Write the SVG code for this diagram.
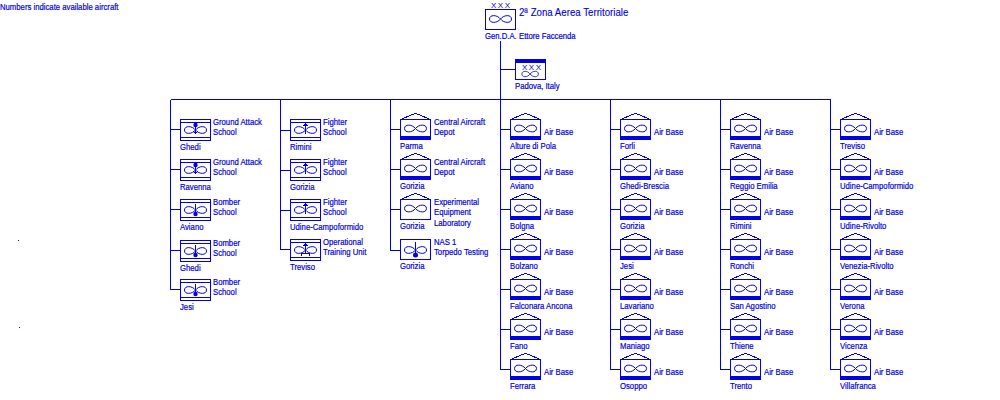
<svg xmlns="http://www.w3.org/2000/svg" width="1000" height="400" viewBox="0 0 1000 400">
<style>
text{font-family:"Liberation Sans",sans-serif;font-size:9px;fill:#0000e0;stroke:#0000e0;stroke-width:.2;transform-box:fill-box;transform-origin:0 0;transform:scaleX(.86)}
.t{font-size:11px;stroke-width:.1;transform:scaleX(.88)}
.x{font-size:8px;letter-spacing:1.5px;transform:none;stroke:none}
.s{fill:none;stroke:#0000e0;stroke-width:1;shape-rendering:crispEdges}
.f{fill:#0000e0;stroke:none;shape-rendering:crispEdges}
.d{fill:#0000e0;stroke:none}
.c{fill:none;stroke:#0000e0;stroke-width:1;shape-rendering:crispEdges}
.l{fill:none;stroke:#0000e0;stroke-width:1}
</style>
<defs>
<path id="loop" class="l" d="M15.5 0C12-4.5 4.5-4.5 4.5 0C4.5 4.5 12 4.5 15.5 0C19-4.5 26.5-4.5 26.5 0C26.5 4.5 19 4.5 15.5 0Z"/>
<g id="base"><rect class="s" x="0.5" y="0.5" width="30" height="20"/><path class="s" d="M0.5 0.5L10-3.5L15.5-5.5L21-3.5L30.5 0.5"/><rect class="f" x="0" y="17" width="31" height="4"/><use href="#loop" y="9.5"/></g>
<g id="depot"><rect class="s" x="0.5" y="0.5" width="30" height="20"/><path class="s" d="M0.5 0.5L10-3.5L15.5-5.5L21-3.5L30.5 0.5"/><use href="#loop" y="9.5"/></g>
<g id="school"><rect class="s" x="0.5" y="0.5" width="30" height="21"/><path class="s" d="M0.5 3.5H30.5M0.5 18.5H30.5"/><use href="#loop" y="11"/></g>
<g id="ga"><use href="#school"/><path class="s" d="M15.5 6V14.5M13.5 12.5L15.5 14.5L17.5 12.5"/><circle class="d" cx="15.5" cy="6" r="2.2"/></g>
<g id="ft"><use href="#school"/><path class="s" d="M15.5 5V15M13.5 7L15.5 5L17.5 7"/></g>
<g id="bm"><use href="#school"/><path class="s" d="M15.5 5V15"/><circle class="d" cx="15.5" cy="15" r="2.2"/></g>
<g id="tr"><use href="#school"/><path class="s" d="M15.5 5V14M13.5 7L15.5 5L17.5 7M11.5 16.5V14.5H19.5V16.5"/></g>
</defs>

<g id="connectors">
<path class="c" d="M500.5 41V99.5M500.5 69.5H515M170.5 99.5H830.5"/>
<path class="c" d="M170.5 99.5V289.5M170.5 129.5H180M170.5 169.5H180M170.5 209.5H180M170.5 250.5H180M170.5 289.5H180"/>
<path class="c" d="M280.5 99.5V249.5M280.5 130.5H290M280.5 170.5H290M280.5 210.5H290M280.5 249.5H290"/>
<path class="c" d="M390.5 99.5V250.5M390.5 129.5H400M390.5 169.5H400M390.5 209.5H400M390.5 250.5H400"/>
<path class="c" d="M500.5 99.5V369.5M500.5 129.5H510M500.5 169.5H510M500.5 209.5H510M500.5 249.5H510M500.5 289.5H510M500.5 329.5H510M500.5 369.5H510"/>
<path class="c" d="M610.5 99.5V369.5M610.5 129.5H620M610.5 169.5H620M610.5 209.5H620M610.5 249.5H620M610.5 289.5H620M610.5 329.5H620M610.5 369.5H620"/>
<path class="c" d="M720.5 99.5V369.5M720.5 129.5H730M720.5 169.5H730M720.5 209.5H730M720.5 249.5H730M720.5 289.5H730M720.5 329.5H730M720.5 369.5H730"/>
<path class="c" d="M830.5 99.5V369.5M830.5 129.5H840M830.5 169.5H840M830.5 209.5H840M830.5 249.5H840M830.5 289.5H840M830.5 329.5H840M830.5 369.5H840"/>
</g>

<g id="note"><text x="0" y="10">Numbers indicate available aircraft</text><rect class="f" x="18" y="240" width="1" height="1"/><rect class="f" x="19" y="327" width="1" height="1"/></g>

<g id="hq"><rect class="s" x="485.5" y="9.5" width="30" height="20"/><use href="#loop" x="485" y="19"/><text class="x" x="491" y="8">XXX</text><text class="t" x="519" y="16">2ª Zona Aerea Territoriale</text><text x="485" y="39">Gen.D.A.</text><text x="519" y="39">Ettore Faccenda</text></g>
<g id="padova"><rect class="s" x="515.5" y="59.5" width="30" height="20"/><rect class="f" x="515" y="59" width="31" height="4"/><text class="x" x="522" y="70">XXX</text><use href="#loop" transform="translate(518.5 74) scale(.75 .8)"/><text x="515" y="89">Padova, Italy</text></g>

<g id="c1a" transform="translate(180 119)"><use href="#ga"/><text x="33" y="6">Ground Attack</text><text x="33" y="16.2">School</text><text y="31">Ghedi</text></g>
<g id="c1b" transform="translate(180 159)"><use href="#ga"/><text x="33" y="6">Ground Attack</text><text x="33" y="16.2">School</text><text y="31">Ravenna</text></g>
<g id="c1c" transform="translate(180 199)"><use href="#bm"/><text x="33" y="6">Bomber</text><text x="33" y="16.2">School</text><text y="31">Aviano</text></g>
<g id="c1d" transform="translate(180 240)"><use href="#bm"/><text x="33" y="6">Bomber</text><text x="33" y="16.2">School</text><text y="31">Ghedi</text></g>
<g id="c1e" transform="translate(180 279)"><use href="#bm"/><text x="33" y="6">Bomber</text><text x="33" y="16.2">School</text><text y="31">Jesi</text></g>

<g id="c2a" transform="translate(290 119)"><use href="#ft"/><text x="33" y="6">Fighter</text><text x="33" y="16.2">School</text><text y="31">Rimini</text></g>
<g id="c2b" transform="translate(290 159)"><use href="#ft"/><text x="33" y="6">Fighter</text><text x="33" y="16.2">School</text><text y="31">Gorizia</text></g>
<g id="c2c" transform="translate(290 199)"><use href="#ft"/><text x="33" y="6">Fighter</text><text x="33" y="16.2">School</text><text y="31">Udine-Campoformido</text></g>
<g id="c2d" transform="translate(290 239)"><use href="#tr"/><text x="33" y="6">Operational</text><text x="33" y="16.2">Training Unit</text><text y="31">Treviso</text></g>

<g id="c3a" transform="translate(400 119)"><use href="#base"/><text x="34" y="6">Central Aircraft</text><text x="34" y="16.2">Depot</text><text y="30">Parma</text></g>
<g id="c3b" transform="translate(400 159)"><use href="#base"/><text x="34" y="6">Central Aircraft</text><text x="34" y="16.2">Depot</text><text y="30">Gorizia</text></g>
<g id="c3c" transform="translate(400 199)"><use href="#depot"/><text x="34" y="6.2">Experimental</text><text x="34" y="16.4">Equipment</text><text x="34" y="26.6">Laboratory</text><text y="30">Gorizia</text></g>
<g id="c3d" transform="translate(400 239)"><rect class="s" x="0.5" y="0.5" width="30" height="20"/><use href="#loop" y="11"/><path class="s" d="M15.5 3V16"/><circle class="d" cx="15.5" cy="16" r="2.5"/><text x="34" y="6">NAS 1</text><text x="34" y="16.2">Torpedo Testing</text><text y="30">Gorizia</text></g>

<g id="c4a" transform="translate(510 119)"><use href="#base"/><text x="34" y="16">Air Base</text><text y="30">Alture di Pola</text></g>
<g id="c4b" transform="translate(510 159)"><use href="#base"/><text x="34" y="16">Air Base</text><text y="30">Aviano</text></g>
<g id="c4c" transform="translate(510 199)"><use href="#base"/><text x="34" y="16">Air Base</text><text y="30">Bolgna</text></g>
<g id="c4d" transform="translate(510 239)"><use href="#base"/><text x="34" y="16">Air Base</text><text y="30">Bolzano</text></g>
<g id="c4e" transform="translate(510 279)"><use href="#base"/><text x="34" y="16">Air Base</text><text y="30">Falconara Ancona</text></g>
<g id="c4f" transform="translate(510 319)"><use href="#base"/><text x="34" y="16">Air Base</text><text y="30">Fano</text></g>
<g id="c4g" transform="translate(510 359)"><use href="#base"/><text x="34" y="16">Air Base</text><text y="30">Ferrara</text></g>

<g id="c5a" transform="translate(620 119)"><use href="#base"/><text x="34" y="16">Air Base</text><text y="30">Forli</text></g>
<g id="c5b" transform="translate(620 159)"><use href="#base"/><text x="34" y="16">Air Base</text><text y="30">Ghedi-Brescia</text></g>
<g id="c5c" transform="translate(620 199)"><use href="#base"/><text x="34" y="16">Air Base</text><text y="30">Gorizia</text></g>
<g id="c5d" transform="translate(620 239)"><use href="#base"/><text x="34" y="16">Air Base</text><text y="30">Jesi</text></g>
<g id="c5e" transform="translate(620 279)"><use href="#base"/><text x="34" y="16">Air Base</text><text y="30">Lavariano</text></g>
<g id="c5f" transform="translate(620 319)"><use href="#base"/><text x="34" y="16">Air Base</text><text y="30">Maniago</text></g>
<g id="c5g" transform="translate(620 359)"><use href="#base"/><text x="34" y="16">Air Base</text><text y="30">Osoppo</text></g>

<g id="c6a" transform="translate(730 119)"><use href="#base"/><text x="34" y="16">Air Base</text><text y="30">Ravenna</text></g>
<g id="c6b" transform="translate(730 159)"><use href="#base"/><text x="34" y="16">Air Base</text><text y="30">Reggio Emilia</text></g>
<g id="c6c" transform="translate(730 199)"><use href="#base"/><text x="34" y="16">Air Base</text><text y="30">Rimini</text></g>
<g id="c6d" transform="translate(730 239)"><use href="#base"/><text x="34" y="16">Air Base</text><text y="30">Ronchi</text></g>
<g id="c6e" transform="translate(730 279)"><use href="#base"/><text x="34" y="16">Air Base</text><text y="30">San Agostino</text></g>
<g id="c6f" transform="translate(730 319)"><use href="#base"/><text x="34" y="16">Air Base</text><text y="30">Thiene</text></g>
<g id="c6g" transform="translate(730 359)"><use href="#base"/><text x="34" y="16">Air Base</text><text y="30">Trento</text></g>

<g id="c7a" transform="translate(840 119)"><use href="#base"/><text x="34" y="16">Air Base</text><text y="30">Treviso</text></g>
<g id="c7b" transform="translate(840 159)"><use href="#base"/><text x="34" y="16">Air Base</text><text y="30">Udine-Campoformido</text></g>
<g id="c7c" transform="translate(840 199)"><use href="#base"/><text x="34" y="16">Air Base</text><text y="30">Udine-Rivolto</text></g>
<g id="c7d" transform="translate(840 239)"><use href="#base"/><text x="34" y="16">Air Base</text><text y="30">Venezia-Rivolto</text></g>
<g id="c7e" transform="translate(840 279)"><use href="#base"/><text x="34" y="16">Air Base</text><text y="30">Verona</text></g>
<g id="c7f" transform="translate(840 319)"><use href="#base"/><text x="34" y="16">Air Base</text><text y="30">Vicenza</text></g>
<g id="c7g" transform="translate(840 359)"><use href="#base"/><text x="34" y="16">Air Base</text><text y="30">Villafranca</text></g>
</svg>
